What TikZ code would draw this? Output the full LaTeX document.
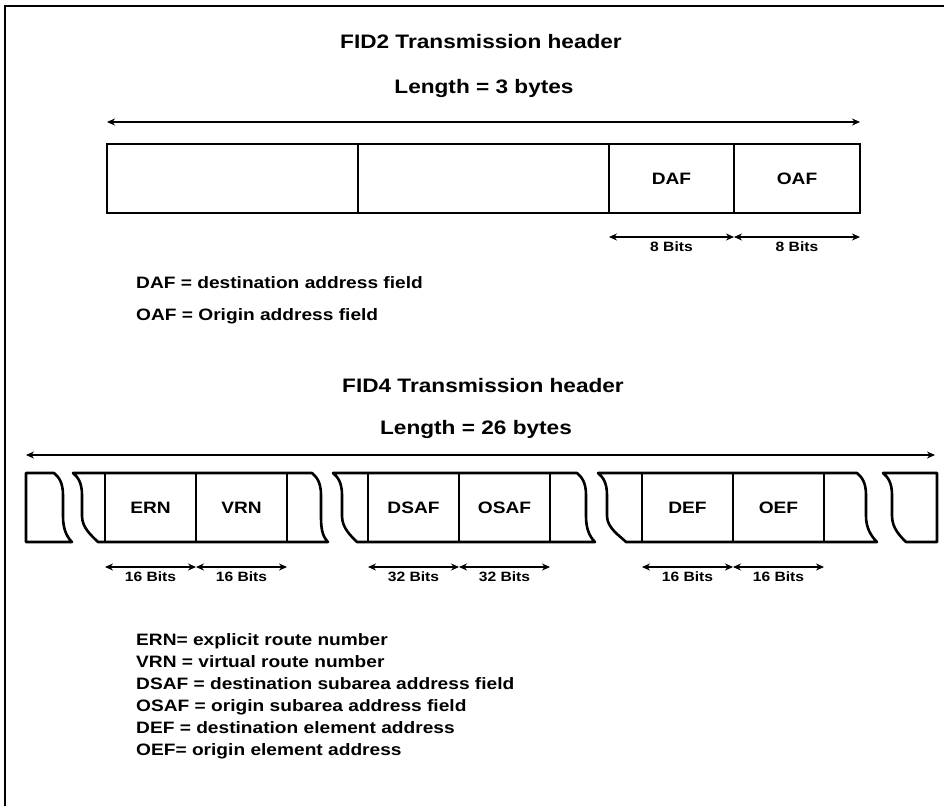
\documentclass[tikz,border=0pt]{standalone}
\usepackage{fontspec}
\setmainfont{Liberation Sans}[FakeStretch=1.16]
\usetikzlibrary{arrows.meta, positioning}

\begin{document}
\begin{tikzpicture}[
    x=1pt, y=-1pt,
    field/.style={rectangle, draw=black, line width=2.6pt, minimum width=91pt, minimum height=69pt, inner sep=0pt, outer sep=0pt, font=\fontsize{16.5}{19}\selectfont\bfseries},
    torn/.style={draw=black, line width=2.6pt, line join=round},
    title/.style={font=\fontsize{19.5}{23}\selectfont\bfseries, inner sep=0pt, anchor=base},
    legend/.style={font=\fontsize{16.5}{19}\selectfont\bfseries, inner sep=0pt, anchor=base west},
    bits/.style={font=\fontsize{13.5}{15}\selectfont\bfseries, inner sep=1pt},
    span/.style={{Stealth[length=8pt,width=7pt]}-{Stealth[length=8pt,width=7pt]}, line width=1.1pt}
]
\useasboundingbox (0,0) rectangle (944,806);
\draw[line width=2.6pt] (5,806) -- (5,6) -- (944,6);

% FID2
\node[title] (fid2) at (481,48) {FID2 Transmission header};
\node[title] (len2) at (484,93) {Length = 3 bytes};

\node[field, minimum width=251pt] (blank1) at (232.5,178.5) {};
\node[field, minimum width=251pt, right=0pt of blank1] (blank2) {};
\node[field, minimum width=125pt, right=0pt of blank2] (daf) {DAF};
\node[field, minimum width=126pt, right=0pt of daf] (oaf) {OAF};

\draw[span] ([yshift=22pt]blank1.north west) -- ([yshift=22pt]oaf.north east);
\draw[span] ([yshift=-24pt]daf.south west) -- node[bits, below=3pt] {8 Bits} ([yshift=-24pt]daf.south east);
\draw[span] ([yshift=-24pt]oaf.south west) -- node[bits, below=3pt] {8 Bits} ([yshift=-24pt]oaf.south east);

\node[legend] (keydaf) at (136,288) {DAF = destination address field};
\node[legend] (keyoaf) at (136,320) {OAF = Origin address field};

% FID4
\node[title] (fid4) at (483,392) {FID4 Transmission header};
\node[title] (len4) at (476,434) {Length = 26 bytes};
\coordinate (l4a) at (26,455);
\coordinate (l4b) at (935,455);
\draw[span] (l4a) -- (l4b);

% torn pieces
\draw[torn] (26,542) -- (26,473) -- (54,473)
    .. controls +(5,4) and +(0,-12) .. ++(9,22) -- ++(0,21)
    .. controls +(0,12) and +(-6,-6) .. ++(9,26) -- cycle;
\draw[torn] (98,542)
    .. controls +(-6,-6) and +(0,12) .. ++(-16,-26) -- ++(0,-21)
    .. controls +(0,-12) and +(5,4) .. ++(-9,-22) -- (312,473)
    .. controls +(5,4) and +(0,-12) .. ++(9,22) -- ++(0,21)
    .. controls +(0,12) and +(-6,-6) .. ++(7,26) -- cycle;
\draw[torn] (357,542)
    .. controls +(-6,-6) and +(0,12) .. ++(-15,-26) -- ++(0,-21)
    .. controls +(0,-12) and +(5,4) .. ++(-9,-22) -- (577,473)
    .. controls +(5,4) and +(0,-12) .. ++(9,22) -- ++(0,21)
    .. controls +(0,12) and +(-6,-6) .. ++(9,26) -- cycle;
\draw[torn] (626,542)
    .. controls +(-6,-6) and +(0,12) .. ++(-19,-26) -- ++(0,-21)
    .. controls +(0,-12) and +(5,4) .. ++(-9,-22) -- (857,473)
    .. controls +(5,4) and +(0,-12) .. ++(9,22) -- ++(0,21)
    .. controls +(0,12) and +(-6,-6) .. ++(11,26) -- cycle;
\draw[torn] (906,542)
    .. controls +(-6,-6) and +(0,12) .. ++(-14,-26) -- ++(0,-21)
    .. controls +(0,-12) and +(5,4) .. ++(-9,-22) -- (937,473) -- (937,542) -- cycle;

\node[field] (ern) at (150.5,507.5) {ERN};
\node[field, right=0pt of ern] (vrn) {VRN};
\node[field] (dsaf) at (413.5,507.5) {DSAF};
\node[field, right=0pt of dsaf] (osaf) {OSAF};
\node[field] (def) at (687.5,507.5) {DEF};
\node[field, right=0pt of def] (oef) {OEF};

\draw[span] ([yshift=-25pt]ern.south west) -- node[bits, below=3pt] {16 Bits} ([yshift=-25pt]ern.south east);
\draw[span] ([yshift=-25pt]vrn.south west) -- node[bits, below=3pt] {16 Bits} ([yshift=-25pt]vrn.south east);
\draw[span] ([yshift=-25pt]dsaf.south west) -- node[bits, below=3pt] {32 Bits} ([yshift=-25pt]dsaf.south east);
\draw[span] ([yshift=-25pt]osaf.south west) -- node[bits, below=3pt] {32 Bits} ([yshift=-25pt]osaf.south east);
\draw[span] ([yshift=-25pt]def.south west) -- node[bits, below=3pt] {16 Bits} ([yshift=-25pt]def.south east);
\draw[span] ([yshift=-25pt]oef.south west) -- node[bits, below=3pt] {16 Bits} ([yshift=-25pt]oef.south east);

\node[legend] (keyern) at (136,645) {ERN= explicit route number};
\node[legend] (keyvrn) at (136,667) {VRN = virtual route number};
\node[legend] (keydsaf) at (136,689) {DSAF = destination subarea address field};
\node[legend] (keyosaf) at (136,711) {OSAF = origin subarea address field};
\node[legend] (keydef) at (136,733) {DEF = destination element address};
\node[legend] (keyoef) at (136,755) {OEF= origin element address};

\end{tikzpicture}
\end{document}
